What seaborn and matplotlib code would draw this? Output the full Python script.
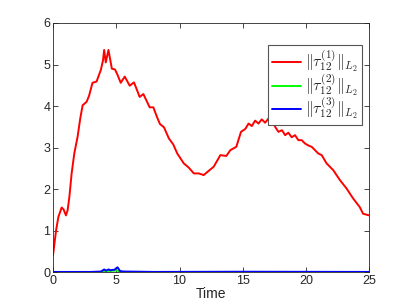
import numpy as np
import pandas as pd
import matplotlib
matplotlib.use("Agg")
import matplotlib.pyplot as plt
import seaborn as sns

# values
t_red = [0.0, 0.24, 0.42, 0.68, 0.84, 1.02, 1.15, 1.29, 1.47, 1.68, 1.94, 2.15, 2.34,
         2.65, 2.85, 3.12, 3.44, 3.78, 3.95, 4.04, 4.17, 4.38, 4.65, 4.9, 5.1, 5.35,
         5.67, 6.06, 6.4, 6.85, 7.14, 7.64, 7.93, 8.2, 8.45, 8.77, 9.16, 9.5, 9.82,
         10.34, 10.73, 11.13, 11.52, 11.91, 12.3, 12.7, 13.23, 13.7, 14.02, 14.49,
         14.86, 15.2, 15.46, 15.72, 15.98, 16.24, 16.5, 16.77, 17.03, 17.3, 17.56,
         17.82, 18.1, 18.35, 18.6, 18.87, 19.13, 19.4, 19.66, 19.92, 20.2, 20.45,
         20.97, 21.24, 21.63, 22.15, 22.68, 23.2, 23.72, 24.25, 24.51, 25.0]
tau1 = [0.42, 1.01, 1.33, 1.56, 1.51, 1.37, 1.49, 1.81, 2.38, 2.86, 3.26, 3.70, 4.02,
        4.10, 4.25, 4.56, 4.59, 4.87, 5.10, 5.35, 5.05, 5.35, 4.90, 4.88, 4.75, 4.56,
        4.71, 4.49, 4.57, 4.22, 4.29, 3.97, 3.97, 3.75, 3.57, 3.49, 3.22, 3.08, 2.86,
        2.62, 2.52, 2.38, 2.38, 2.34, 2.44, 2.54, 2.82, 2.80, 2.94, 3.02,
        3.38, 3.45, 3.58, 3.52, 3.65, 3.58, 3.68, 3.60, 3.70, 3.72, 3.50,
        3.38, 3.42, 3.30, 3.36, 3.25, 3.30, 3.18, 3.18, 3.10, 3.05, 3.02,
        2.86, 2.82, 2.62, 2.46, 2.22, 2.02, 1.78, 1.57, 1.41, 1.37]

t_small = [0.0, 3.0, 3.8, 4.04, 4.2, 4.4, 4.55, 4.7, 4.85, 5.0, 5.1, 5.3, 5.6, 8.0, 15.0, 25.0]
tau2 = [0.0, 0.0, 0.01, 0.03, 0.02, 0.04, 0.03, 0.04, 0.04, 0.05, 0.04, 0.01, 0.0, 0.0, 0.0, 0.0]
tau3 = [0.01, 0.01, 0.02, 0.07, 0.04, 0.07, 0.05, 0.06, 0.06, 0.10, 0.12, 0.03, 0.02, 0.01, 0.015, 0.01]

labels = [r'$\Vert\tau_{12}^{(1)}\Vert_{L_2}$',
          r'$\Vert\tau_{12}^{(2)}\Vert_{L_2}$',
          r'$\Vert\tau_{12}^{(3)}\Vert_{L_2}$']

sns.set_style("ticks")
plt.rcParams['font.family'] = ['Liberation Sans', 'DejaVu Sans']
plt.rcParams['mathtext.fontset'] = 'cm'

fig = plt.figure(figsize=(4.08, 3.06), dpi=100)
ax = fig.add_axes([0.13, 0.11, 0.775, 0.815])

sns.lineplot(x=t_red, y=tau1, color=(1, 0, 0), lw=1.4, label=labels[0], ax=ax)
sns.lineplot(x=t_small, y=tau2, color=(0, 1, 0), lw=1.4, label=labels[1], ax=ax)
sns.lineplot(x=t_small, y=tau3, color=(0, 0, 1), lw=1.4, label=labels[2], ax=ax)

ax.set_xlim(0, 25)
ax.set_ylim(0, 6)
ax.set_xticks([0, 5, 10, 15, 20, 25])
ax.set_yticks([0, 1, 2, 3, 4, 5, 6])
ax.set_xlabel("Time", fontsize=10, color='#262626', labelpad=0)
ax.set_ylabel("")
for s in ax.spines.values():
    s.set_visible(True)
    s.set_linewidth(0.6)
    s.set_color('#262626')
ax.tick_params(direction='in', length=3.5, width=0.6, top=True, right=True,
               labelsize=9, colors='#262626', pad=2)

leg = ax.legend(loc='upper right', bbox_to_anchor=(0.978, 0.912), borderaxespad=0,
                fancybox=False, framealpha=1, edgecolor='#555555', fontsize=11.5,
                handlelength=1.8, handletextpad=0.3, labelspacing=-0.12,
                borderpad=0.25)
leg.get_frame().set_linewidth(0.8)

fig.savefig("out.png", dpi=100)
